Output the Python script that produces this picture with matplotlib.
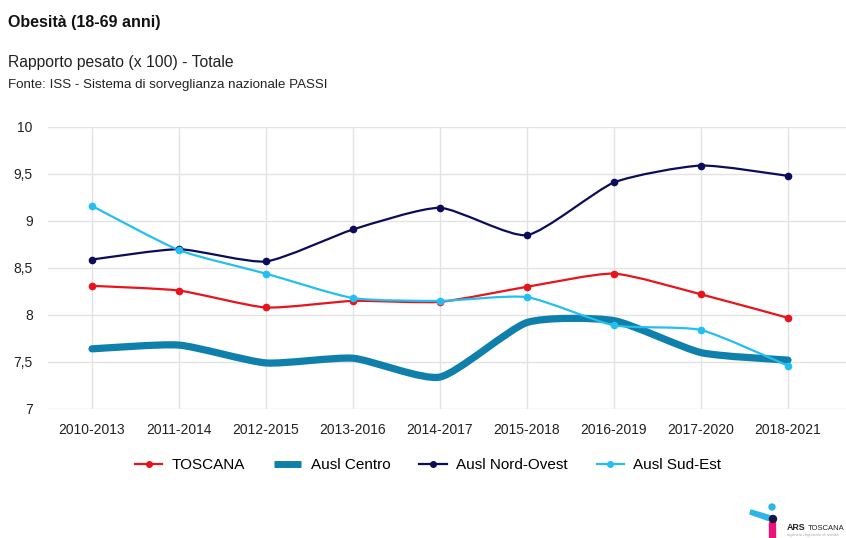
import numpy as np
import matplotlib
matplotlib.use("Agg")
import matplotlib.pyplot as plt
from matplotlib.path import Path
from matplotlib.patches import PathPatch, Rectangle, Ellipse, Polygon
from matplotlib.lines import Line2D
from matplotlib.ticker import FuncFormatter, MultipleLocator

plt.rcParams['font.family'] = ['Liberation Sans', 'DejaVu Sans']

periods = ["2010-2013", "2011-2014", "2012-2015", "2013-2016", "2014-2017",
           "2015-2018", "2016-2019", "2017-2020", "2018-2021"]
toscana = [8.31, 8.26, 8.08, 8.15, 8.14, 8.30, 8.44, 8.22, 7.97]
ausl_centro = [7.64, 7.68, 7.49, 7.54, 7.34, 7.92, 7.94, 7.60, 7.52]
ausl_nord_ovest = [8.59, 8.70, 8.57, 8.91, 9.14, 8.85, 9.41, 9.59, 9.48]
ausl_sud_est = [9.16, 8.69, 8.44, 8.18, 8.15, 8.19, 7.89, 7.84, 7.46]

series_names = ["TOSCANA", "Ausl Centro", "Ausl Nord-Ovest", "Ausl Sud-Est"]
series_values = [toscana, ausl_centro, ausl_nord_ovest, ausl_sud_est]
series_colors = ["#e8141c", "#0f7fab", "#0c0d5a", "#23bff0"]
series_widths = [1.6, 5.2, 1.6, 1.6]
series_markers = [4.5, 0, 4.5, 4.5]

W, H = 846, 538
fig = plt.figure(figsize=(W / 100, H / 100), dpi=100)
fig.patch.set_facecolor("white")

ax_left, ax_right, ax_top, ax_bottom = 48, 846, 127, 409
ax = fig.add_axes([ax_left / W, 1 - ax_bottom / H,
                   (ax_right - ax_left) / W, (ax_bottom - ax_top) / H])

x = np.arange(len(periods))


def smooth_path(xs, ys, k=0.1):
    """Cubic Bezier path through the points (Catmull-Rom style tangents)."""
    pts = np.column_stack([xs, ys]).astype(float)
    n = len(pts)
    verts = [pts[0]]
    codes = [Path.MOVETO]
    for i in range(n - 1):
        p0 = pts[max(i - 1, 0)]
        p1 = pts[i]
        p2 = pts[i + 1]
        p3 = pts[min(i + 2, n - 1)]
        c1 = p1 + (p2 - p0) * k
        c2 = p2 - (p3 - p1) * k
        verts += [c1, c2, p2]
        codes += [Path.CURVE4] * 3
    return Path(np.array(verts), codes)


for name, vals, col, lw, ms in zip(series_names, series_values, series_colors,
                                   series_widths, series_markers):
    patch = PathPatch(smooth_path(x, vals), facecolor="none", edgecolor=col,
                      linewidth=lw, capstyle="round", joinstyle="round",
                      zorder=3)
    ax.add_patch(patch)
    if ms:
        ax.plot(x, vals, linestyle="none", marker="o", markersize=ms,
                color=col, zorder=4)

ax.set_xlim(-0.506, 8.667)
ax.set_ylim(7, 10)
ax.yaxis.set_major_locator(MultipleLocator(0.5))
ax.yaxis.set_major_formatter(FuncFormatter(
    lambda v, p: (f"{v:g}").replace(".", ",")))
ax.set_xticks(x)
ax.set_xticklabels(periods)
ax.tick_params(axis="both", length=0, labelsize=10, colors="#222222")
ax.tick_params(axis="y", pad=11)
ax.tick_params(axis="x", pad=10)
ax.grid(True, color="#e3e3e3", linewidth=1)
ax.set_axisbelow(True)
for s in ax.spines.values():
    s.set_visible(False)

# Titles
fig.text(8 / W, 1 - 22 / H, "Obesità (18-69 anni)", fontsize=11.5,
         fontweight="bold", va="center", ha="left", color="#111111")
fig.text(8 / W, 1 - 63 / H, "Rapporto pesato (x 100) - Totale", fontsize=11.3,
         va="center", ha="left", color="#222222")
fig.text(8 / W, 1 - 85 / H, "Fonte: ISS - Sistema di sorveglianza nazionale PASSI",
         fontsize=9.6, va="center", ha="left", color="#222222")

# Legend
handles = []
for name, col, lw, ms in zip(series_names, series_colors, series_widths,
                             series_markers):
    if ms:
        handles.append(Line2D([], [], color=col, linewidth=lw, marker="o",
                              markersize=4))
    else:
        handles.append(Line2D([], [], color=col, linewidth=5,
                              solid_capstyle="butt"))
leg = fig.legend(handles, series_names, loc="center",
                 bbox_to_anchor=(428 / W, 1 - 465 / H), ncol=4, frameon=False,
                 fontsize=11, handlelength=1.8, handletextpad=0.6,
                 columnspacing=1.9)

# Logo
fig.add_artist(Polygon([[751 / W, 1 - 510 / H], [771 / W, 1 - 516 / H],
                        [770 / W, 1 - 521 / H], [750 / W, 1 - 514 / H]],
                       closed=True, color="#2cb5e6", transform=fig.transFigure))
fig.add_artist(Ellipse((772 / W, 1 - 507 / H), 6 / W, 6 / H, color="#2cb5e6",
                       transform=fig.transFigure))
fig.add_artist(Rectangle((769 / W, 1 - 538 / H), 6 / W, 16 / H,
                         color="#e6157a", transform=fig.transFigure))
fig.add_artist(Ellipse((773 / W, 1 - 519 / H), 7 / W, 7 / H, color="#1a1440",
                       transform=fig.transFigure))
fig.text(787 / W, 1 - 528 / H, "ARS", fontsize=6.4, fontweight="bold",
         va="center", ha="left", color="#222222")
fig.text(808 / W, 1 - 528 / H, "TOSCANA", fontsize=5.5, va="center",
         ha="left", color="#222222")
fig.text(787 / W, 1 - 535 / H, "agenzia regionale di sanità", fontsize=3.2,
         va="center", ha="left", color="#aaaaaa")

fig.savefig("out.png", dpi=100, facecolor="white")
